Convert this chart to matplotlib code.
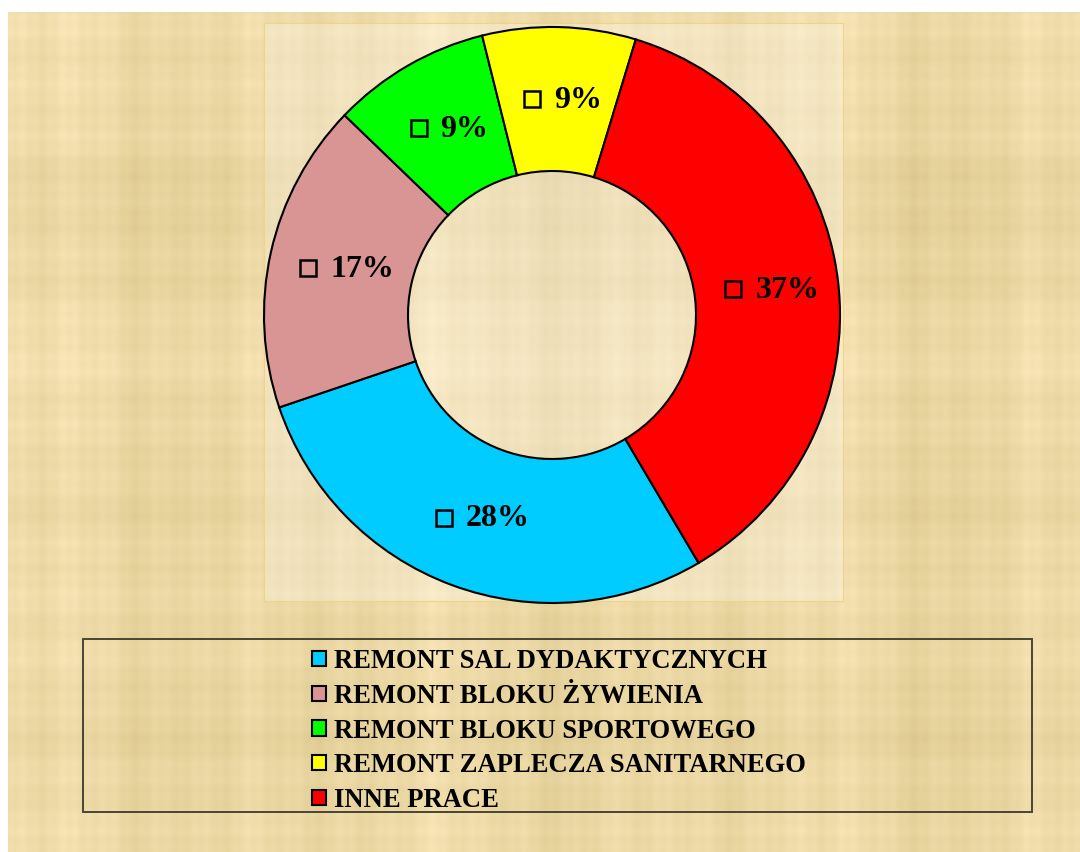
import numpy as np
import matplotlib
matplotlib.use("Agg")
import matplotlib.pyplot as plt
from matplotlib.patches import Rectangle
from matplotlib.transforms import offset_copy

# dane z wykresu
categories = [
    "REMONT SAL DYDAKTYCZNYCH",
    "REMONT BLOKU ŻYWIENIA",
    "REMONT BLOKU SPORTOWEGO",
    "REMONT ZAPLECZA SANITARNEGO",
    "INNE PRACE",
]
shares = [28.3, 17.4, 8.9, 8.6, 36.8]
pct_labels = ["28%", "17%", "9%", "9%", "37%"]
colors = ["#00CCFF", "#D99594", "#00FF00", "#FFFF00", "#FF0000"]

W, H = 1080, 852
fig = plt.figure(figsize=(W / 100, H / 100), dpi=100, facecolor="white")

# tło "papirus"
bg = fig.add_axes([8 / W, 0, 1 - 8 / W, 840 / H])
bg.set_axis_off()
th, tw = 840, 1072
xs = np.arange(tw)
ys = np.arange(th)
col = (2.5 * np.sin(xs / 7.3) + 1.5 * np.sin(xs / 2.1 + 1) + 3 * np.sin(xs / 31.0)
       + 1.5 * np.sin(xs / 13.7 + 2) + 2 * np.sin(xs / 57.0 + 0.5))
row = (2 * np.sin(ys / 9.1) + 1.2 * np.sin(ys / 2.7) + 2.5 * np.sin(ys / 43.0)
       + 1 * np.sin(ys / 17.3 + 1) + 1.5 * np.sin(ys / 71.0 + 2))
var = col[None, :] + row[:, None]
base = np.array([236, 216, 164], dtype=float)
tint = np.array([1.0, 1.0, 1.4])
img = np.clip(base[None, None, :] + var[..., None] * tint, 0, 255) / 255
bg.imshow(img, extent=(0, 1, 0, 1), aspect="auto", interpolation="bilinear")
bg.set_xlim(0, 1)
bg.set_ylim(0, 1)

# jaśniejszy obszar wykresu
bg.add_patch(Rectangle((264 / W, (H - 601) / H), 579 / W, 578 / H, transform=fig.transFigure,
                       facecolor="white", alpha=0.28, edgecolor="none"))
bg.add_patch(Rectangle((264 / W, (H - 601) / H), 579 / W, 578 / H, transform=fig.transFigure,
                       facecolor="none", edgecolor="#EFD488", lw=0.8))
# ramka legendy
bg.add_patch(Rectangle((83 / W, (H - 812) / H), 949 / W, 173 / H, transform=fig.transFigure,
                       facecolor="none", edgecolor="#4a4436", lw=1.4))

# wykres pierścieniowy
cx, cy, r = 552, 315, 288
ax = fig.add_axes([(cx - r) / W, (H - cy - r) / H, 2 * r / W, 2 * r / H])
wedges, _ = ax.pie(shares, colors=colors, startangle=-59.4, counterclock=False,
                   wedgeprops=dict(width=0.5, edgecolor="black", linewidth=1.5))
ax.set_xlim(-1, 1)
ax.set_ylim(-1, 1)
ax.set_aspect("equal")
ax.set_axis_off()

serif = ["Liberation Serif", "DejaVu Serif"]
for w, lab in zip(wedges, pct_labels):
    mid = np.deg2rad((w.theta1 + w.theta2) / 2)
    x, y = 0.75 * np.cos(mid), 0.75 * np.sin(mid)
    ndig = len(lab) - 1
    group = 20 + 31 * (0.5 * ndig + 1.0)  # px
    sq_off = (-group / 2 + 8) * 0.72
    txt_off = (-group / 2 + 30) * 0.72
    ax.plot([x], [y], marker="s", markersize=11, markerfacecolor="none",
            markeredgecolor="black", markeredgewidth=1.8,
            transform=offset_copy(ax.transData, fig, x=sq_off, y=0, units="points"))
    ax.text(x, y, lab, ha="left", va="center", fontsize=23, fontweight="bold",
            family=serif,
            transform=offset_copy(ax.transData, fig, x=txt_off, y=-1, units="points"))

leg = fig.legend(wedges, categories, loc="upper left",
                 bbox_to_anchor=(291 / W, (H - 628) / H), frameon=False,
                 prop=dict(family=serif, weight="bold", size=19.2),
                 handlelength=0.5, handleheight=0.5, handletextpad=0.3,
                 labelspacing=0.36, borderpad=0.3)

fig.savefig("out.png", dpi=100, facecolor="white")
